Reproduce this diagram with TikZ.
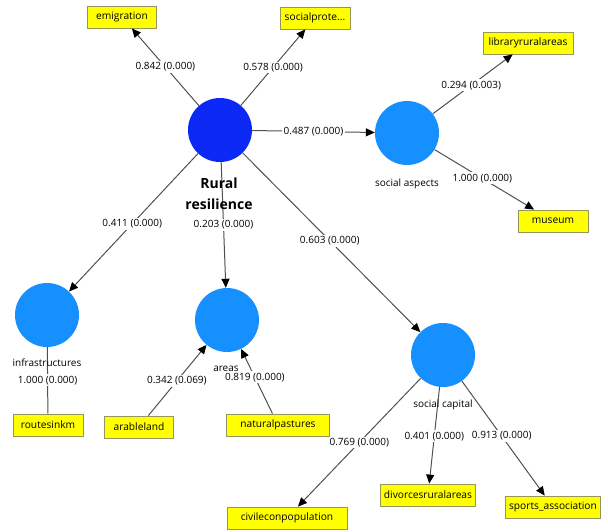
\documentclass[tikz,border=0pt]{standalone}
\usepackage{fontspec}
\setmainfont{Open Sans}
\usepackage{xcolor}
\usepackage{tikz}
\usetikzlibrary{arrows.meta, positioning}

\definecolor{lvdark}{RGB}{12,40,245}
\definecolor{lvlight}{RGB}{22,144,255}
\definecolor{mvfill}{RGB}{255,255,0}
\definecolor{mvline}{RGB}{150,150,90}
\definecolor{pathline}{RGB}{80,80,80}

\begin{document}
\begin{tikzpicture}[x=1pt,y=1pt,yscale=-1,xscale=1,
  lvmain/.style={circle, fill=lvdark, minimum size=64pt, inner sep=0pt},
  lv/.style={circle, fill=lvlight, minimum size=64pt, inner sep=0pt},
  mv/.style={rectangle, fill=mvfill, draw=mvline, line width=0.8pt, minimum width=#1, minimum height=22pt, inner xsep=2pt, font=\fontsize{10.2}{12}\selectfont},
  mv/.default=70pt,
  lvname/.style={inner sep=0.75pt, font=\fontsize{10}{11}\selectfont, align=center},
  coef/.style={fill=white, inner sep=1.5pt, font=\fontsize{10}{11}\selectfont},
  path/.style={draw=pathline, line width=1pt, -{Triangle[length=9pt,width=8pt,color=black]}}]
\useasboundingbox (0,0) rectangle (608,532);

%Shape: Latent variables
\node[lvmain] (rural) at (220,130) {};
\node[lv] (social) at (407,133) {};
\node[lv] (infra) at (47,315) {};
\node[lv] (areas) at (227,320) {};
\node[lv] (capital) at (443,355) {};

%Shape: Indicators
\node[mv=69pt] (emigration) at (122,17) {emigration};
\node[mv] (socialprot) at (315,18) {socialprote...};
\node[mv=90pt] (library) at (528,43) {libraryruralareas};
\node[mv] (museum) at (553,221) {museum};
\node[mv] (routes) at (48,425) {routesinkm};
\node[mv=69pt] (arable) at (139,427) {arableland};
\node[mv=103pt] (pastures) at (278,425) {naturalpastures};
\node[mv=120pt] (civil) at (287,518) {civileconpopulation};
\node[mv=95pt] (divorces) at (428,495) {divorcesruralareas};
\node[mv=95pt] (sports) at (553,507) {sports\_association};

%Straight Lines: paths
\draw[path] (rural) -- node[coef, pos=0.5] {0.842 (0.000)} (emigration);
\draw[path] (rural) -- node[coef, pos=0.5] {0.578 (0.000)} (socialprot);
\draw[path] (rural) -- node[coef, pos=0.5] {0.487 (0.000)} (social);
\draw[path] (rural) -- node[coef, pos=0.51] {0.411 (0.000)} (infra);
\draw[path] (rural) -- node[coef, pos=0.5] {0.203 (0.000)} (areas);
\draw[path] (rural) -- node[coef, pos=0.49] {0.603 (0.000)} (capital);
\draw[path] (social) -- node[coef, pos=0.48] {0.294 (0.003)} (library);
\draw[path] (social) -- node[coef, pos=0.48] {1.000 (0.000)} (museum);
\draw[path] (arable) -- node[coef, pos=0.49] {0.342 (0.069)} (areas);
\draw[path] (pastures) -- node[coef, pos=0.56] {0.819 (0.000)} (areas);
\draw[path] (capital) -- node[coef, pos=0.5] {0.769 (0.000)} (civil);
\draw[path] (capital) -- node[coef, pos=0.51] {0.401 (0.000)} (divorces);
\draw[path] (capital) -- node[coef, pos=0.48] {0.913 (0.000)} (sports);
\draw[draw=pathline, line width=1pt] (routes) -- node[coef, pos=0.5] {1.000 (0.000)} (infra);

% Text Node
\node[lvname, font=\fontsize{14}{21}\selectfont\bfseries] (ruralname) at (219,194) {Rural\\resilience};
\node[lvname] (socialname) at (407,184) {social aspects};
\node[lvname] (infraname) at (47,363) {infrastructures};
\node[lvname] (areasname) at (226,369) {areas};
\node[lvname] (capitalname) at (443,405) {social capital};

\end{tikzpicture}
\end{document}
